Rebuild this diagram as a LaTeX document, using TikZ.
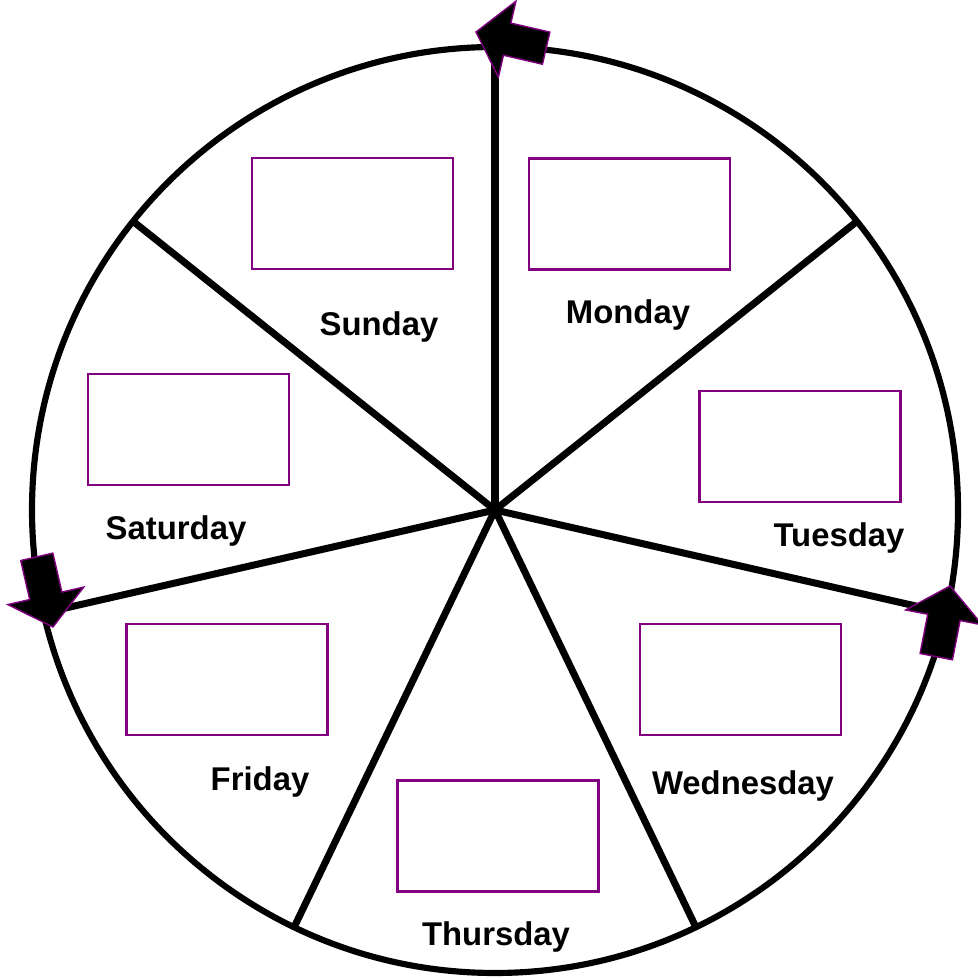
\documentclass[tikz,border=0pt]{standalone}
\usepackage{fontspec}
\setmainfont{Liberation Sans}
\definecolor{boxpurple}{RGB}{128,0,128}
\tikzset{
  daybox/.style={draw=boxpurple, line width=1.2pt, minimum width=4.02cm, minimum height=2.22cm, inner sep=0pt},
  daylabel/.style={font=\fontsize{18.7}{22}\selectfont\bfseries},
  blockarrow/.pic={
    \filldraw[fill=black, draw=boxpurple, line width=0.8pt, line join=miter]
      (0,0) -- (-32,39) -- (-32,16.5) -- (-72,16.5) -- (-72,-16.5) -- (-32,-16.5) -- (-32,-39) -- cycle;
  }
}
\begin{document}
\begin{tikzpicture}[x=0.02cm, y=0.02cm]
  \useasboundingbox (0,0) rectangle (977,979);
  \coordinate (C) at (495,469);

  % Wheel
  \draw[line width=3.5pt] (C) circle (463);
  \foreach \k in {0,...,6}
    \draw[line width=4pt] (C) -- ++({90-\k*360/7}:463);

  % Boxes
  \node[daybox] (sunbox) at (352.5,765.5) {};
  \node[daybox] (monbox) at (629.5,765) {};
  \node[daybox] (tuebox) at (800,532.5) {};
  \node[daybox] (wedbox) at (740.5,299.5) {};
  \node[daybox] (thubox) at (498,143) {};
  \node[daybox] (fribox) at (227,299.5) {};
  \node[daybox] (satbox) at (188.5,549.5) {};

  % Labels
  \node[daylabel] (sun) at (379,652) {Sunday};
  \node[daylabel] (mon) at (628,664) {Monday};
  \node[daylabel] (tue) at (839,441) {Tuesday};
  \node[daylabel] (wed) at (743,193) {Wednesday};
  \node[daylabel] (thu) at (496,42) {Thursday};
  \node[daylabel] (fri) at (260,197) {Friday};
  \node[daylabel] (sat) at (176,448) {Saturday};

  % Arrows
  \pic[rotate=167] at (476,947) {blockarrow};
  \pic[rotate=-77] at (53,352) {blockarrow};
  \pic[rotate=79] at (950,393) {blockarrow};
\end{tikzpicture}
\end{document}
